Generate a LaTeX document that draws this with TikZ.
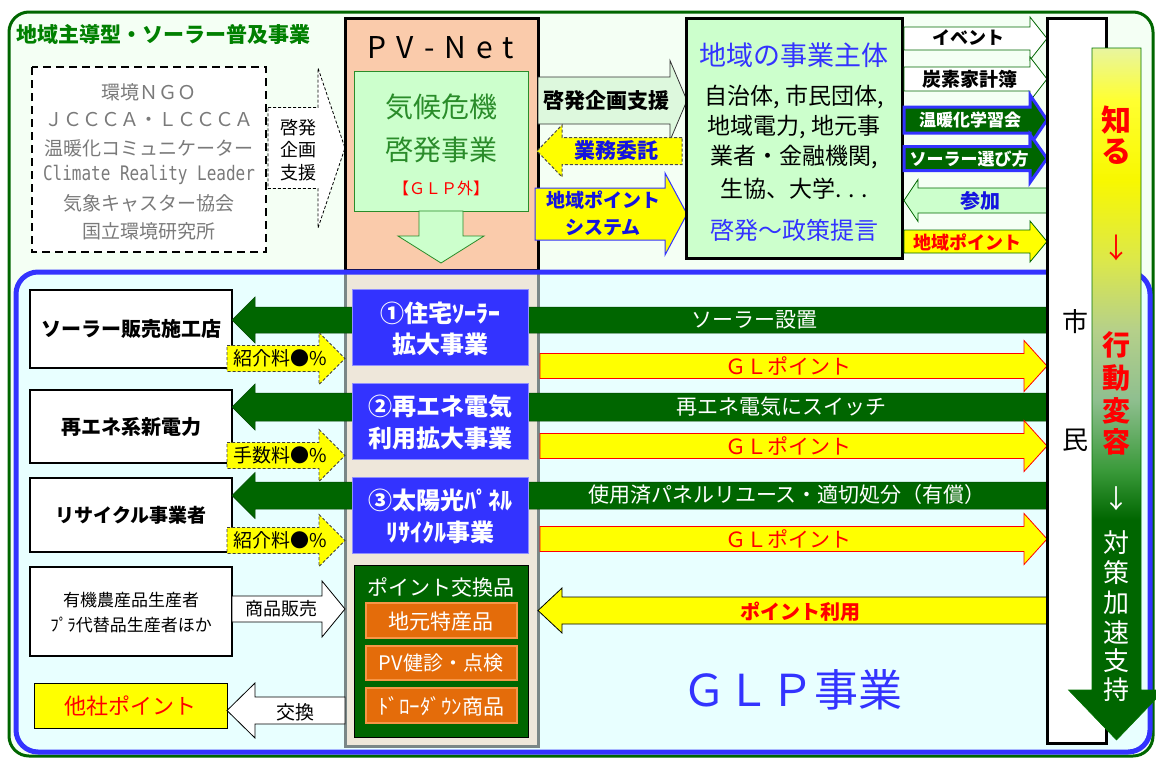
\documentclass[tikz,border=0pt]{standalone}
\usepackage{fontspec}
\setmainfont{Noto Sans CJK JP}
\setmonofont{DejaVu Sans Mono}
\newfontfamily\condmono{DejaVu Sans Mono}[FakeStretch=0.8]
\definecolor{dkg}{HTML}{006600}
\definecolor{ttlg}{HTML}{008000}
\definecolor{bluA}{HTML}{3333FF}
\definecolor{bluB}{HTML}{1414E0}
\definecolor{grayT}{HTML}{7A7A7A}
\definecolor{ltg}{HTML}{CCFFCC}
\definecolor{arrg}{HTML}{DDF8DD}
\definecolor{peach}{HTML}{FACBAB}
\definecolor{beige}{HTML}{EEE7DA}
\definecolor{orgF}{HTML}{E46C0A}
\definecolor{orgD}{HTML}{F79646}
\definecolor{yel}{HTML}{FFFF00}
\definecolor{redT}{HTML}{FF0000}
\definecolor{cyanbg}{HTML}{E8FFFF}
\definecolor{outerbg}{HTML}{F4FFF4}
\definecolor{txtg}{HTML}{2A8C2A}
\definecolor{colgray}{HTML}{7A8787}
\definecolor{gA}{HTML}{E8F5A0}
\definecolor{gB}{HTML}{FFFF30}
\definecolor{gC}{HTML}{F8F800}
\definecolor{gD}{HTML}{DCE84A}
\definecolor{gE}{HTML}{B5D08A}
\definecolor{gF}{HTML}{8FBF8F}
\definecolor{gG}{HTML}{3A9A3A}
\pgfdeclareverticalshading{actshade}{100bp}{color(0bp)=(dkg); color(25bp)=(dkg); color(40.9bp)=(dkg); color(44.5bp)=(gG); color(49.6bp)=(gF); color(54.6bp)=(gE); color(59.7bp)=(gD); color(65.5bp)=(gC); color(71.2bp)=(gB); color(75bp)=(gA); color(100bp)=(gA)}
\newcommand\myfs[1]{\fontsize{#1}{#1}\selectfont}
\newcommand\blockarrow[7]{\path[#1] (#2,#5-#6) -- (#3,#5-#6) -- (#3,#5-#7) -- (#4,#5) -- (#3,#5+#7) -- (#3,#5+#6) -- (#2,#5+#6) -- cycle;}
\newcommand\vblockarrow[7]{\path[#1] (#5-#6,#2) -- (#5-#6,#3) -- (#5-#7,#3) -- (#5,#4) -- (#5+#7,#3) -- (#5+#6,#3) -- (#5+#6,#2) -- cycle;}
\begin{document}
\begin{tikzpicture}[x=1pt,y=-1pt,
  every node/.style={inner sep=0pt,anchor=center},
  yarrow/.style={fill=yel,draw=redT,line width=0.8pt},
  garrow/.style={fill=dkg,draw=dkg!70!black,line width=0.5pt},
  warrow/.style={fill=white,draw=dkg,line width=0.8pt},
  barrow/.style={fill=dkg,draw=bluA,line width=3pt},
  dyarrow/.style={fill=yel,draw=black!75,line width=0.8pt,dash pattern=on 3pt off 2pt},
  lbox/.style={fill=white,draw=black,line width=2pt},
  bbox/.style={fill=bluA,draw=bluA!55!white,line width=1pt},
  obox/.style={fill=orgF,draw=orgD,line width=2pt},
  srct/.style={font=\myfs{19},text=grayT},
]
\useasboundingbox (0,0) rectangle (1156,758);
% outer frame
\draw[draw=dkg,line width=3pt,fill=outerbg,rounded corners=20pt] (9,12) rectangle (1153,756);
\node[anchor=west,font={\myfs{21}\bfseries},text=ttlg] (title) at (16,34) {地域主導型・ソーラー普及事業};
% source box
\draw[line width=2.5pt,dash pattern=on 8pt off 5pt,fill=white] (32,67) rectangle (266,252);
\node[srct] (s1) at (149,92) {環境ＮＧＯ};
\node[srct] (s2) at (149,120) {ＪＣＣＣＡ・ＬＣＣＣＡ};
\node[srct] (s3) at (149,148) {温暖化コミュニケーター};
\node[font={\condmono\myfs{20}},text=grayT] (s4) at (149,175) {Climate Reality Leader};
\node[srct] (s5) at (149,203) {気象キャスター協会};
\node[srct] (s6) at (149,231) {国立環境研究所};
\blockarrow{fill=white,draw=black,line width=0.8pt,dash pattern=on 3pt off 2pt}{268}{318}{345}{148}{40.5}{80}
\node[font=\myfs{18}] (k1) at (298,128) {啓発};
\node[font=\myfs{18}] (k2) at (298,150) {企画};
\node[font=\myfs{18}] (k3) at (298,173) {支援};
% PV-Net
\draw[fill=peach,line width=3pt] (345,18) rectangle (538,270);
\node[font=\myfs{30}] (pvnet) at (441,48) {P\hspace{10pt}V\hspace{10pt}-\hspace{10pt}N\hspace{10pt}e\hspace{10pt}t};
\draw[fill=ltg,draw=txtg,line width=0.8pt] (354,71) rectangle (528,211);
\node[font=\myfs{28},text=txtg] (kk1) at (441,107) {気候危機};
\node[font=\myfs{28},text=txtg] (kk2) at (441,150) {啓発事業};
\node[font=\myfs{16},text=redT] (kk3) at (441,188) {【ＧＬＰ外】};
\vblockarrow{fill=ltg,draw=txtg,line width=0.8pt}{211}{236}{263}{441}{22}{43}
% arrows PV-Net <-> actors
\blockarrow{fill=arrg,draw=black!80,line width=0.8pt}{538}{670}{687}{100.5}{23.5}{40}
\node[font={\myfs{21}\bfseries}] (a1) at (606,100) {啓発企画支援};
\blockarrow{fill=yel,draw=black!70,line width=1pt,dash pattern=on 3pt off 2pt}{682}{562}{537}{151}{13.5}{26}
\node[font={\myfs{21}\bfseries},text=bluB] (a2) at (616,151) {業務委託};
\blockarrow{fill=yel,draw=bluA,line width=1pt}{535}{665}{687}{214}{26}{41}
\node[font={\myfs{19}\bfseries},text=bluB] (a3) at (603,200) {地域ポイント};
\node[font={\myfs{19}\bfseries},text=bluB] (a4) at (603,228) {システム};
% actors box
\draw[fill=ltg,line width=3pt] (686,18) rectangle (902,258);
\node[font=\myfs{27},text=bluA] (act) at (794,55) {地域の事業主体};
\node[font=\myfs{23}] (ac1) at (794,97) {自治体, 市民団体,};
\node[font=\myfs{23}] (ac2) at (794,127) {地域電力, 地元事};
\node[font=\myfs{23}] (ac3) at (794,157) {業者・金融機関,};
\node[font=\myfs{23}] (ac4) at (794,189) {生協、大学. . .};
\node[font=\myfs{24},text=bluA] (ac5) at (794,230) {啓発～政策提言};
% arrows actors -> citizens
\blockarrow{warrow}{904}{1030}{1047}{38.5}{11.5}{21.5}
\node[font={\myfs{18}\bfseries}] (r1) at (968,38) {イベント};
\blockarrow{warrow}{904}{1030}{1047}{79}{12}{22}
\node[font={\myfs{19}\bfseries}] (r2) at (970,79) {炭素家計簿};
\blockarrow{barrow}{904}{1030}{1047}{120}{13}{25}
\node[font={\myfs{17}\bfseries},text=white] (r3) at (970,120) {温暖化学習会};
\blockarrow{barrow}{904}{1030}{1047}{158.5}{12}{24}
\node[font={\myfs{17}\bfseries},text=white] (r4) at (969,159) {ソーラー選び方};
\blockarrow{fill=ltg,draw=dkg,line width=0.8pt}{1047}{918}{904}{200.5}{12.5}{21}
\node[font={\myfs{20}\bfseries},text=bluB] (r5) at (980,201) {参加};
\blockarrow{fill=yel,draw=dkg,line width=0.8pt}{904}{1030}{1047}{241.5}{11.5}{20.5}
\node[font={\myfs{18}\bfseries},text=redT] (r6) at (967,242) {地域ポイント};
% GLP area
\fill[cyanbg,rounded corners=22pt] (16,272) rectangle (1150,752);
\draw[fill=beige,draw=colgray,line width=3pt] (345,272) rectangle (538,746);
\draw[bluA,line width=5pt,rounded corners=22pt] (16,272) rectangle (1150,752);
% left boxes
\draw[lbox] (30,290) rectangle (232,368);
\node[font={\myfs{20}\bfseries}] (l1) at (131,329) {ソーラー販売施工店};
\draw[lbox] (30,390) rectangle (232,463);
\node[font={\myfs{20}\bfseries}] (l2) at (131,427) {再エネ系新電力};
\draw[lbox] (30,478) rectangle (232,552);
\node[font={\myfs{19}\bfseries}] (l3) at (131,515) {リサイクル事業者};
\draw[lbox] (30,567) rectangle (232,656);
\node[font=\myfs{17}] (l4a) at (131,600) {有機農産品生産者};
\node[font=\myfs{17}] (l4b) at (131,625) {ﾌﾟﾗ代替品生産者ほか};
\draw[fill=yel,draw=black,line width=1pt] (34,683) rectangle (227,728);
\node[font=\myfs{22},text=redT] (l5) at (130,706) {他社ポイント};
% green arrows citizens -> left
\blockarrow{garrow}{1047}{255}{232}{320}{13}{23}
\node[font=\myfs{21},text=white] (g1) at (754,320) {ソーラー設置};
\blockarrow{garrow}{1047}{255}{232}{407}{14}{23}
\node[font=\myfs{21},text=white] (g2) at (781,407) {再エネ電気にスイッチ};
\blockarrow{garrow}{1047}{255}{232}{495.5}{13.5}{23}
\node[font=\myfs{21},text=white] (g3) at (787,495) {使用済パネルリユース・適切処分（有償）};
% blue project boxes
\draw[bbox] (352,289) rectangle (528,365);
\node[font={\myfs{24}\bfseries},text=white] (b1a) at (440,313) {①住宅ｿｰﾗｰ};
\node[font={\myfs{24}\bfseries},text=white] (b1b) at (440,344) {拡大事業};
\draw[bbox] (352,383) rectangle (528,459);
\node[font={\myfs{24}\bfseries},text=white] (b2a) at (440,407) {②再エネ電気};
\node[font={\myfs{24}\bfseries},text=white] (b2b) at (440,438) {利用拡大事業};
\draw[bbox] (352,477) rectangle (528,553);
\node[font={\myfs{24}\bfseries},text=white] (b3a) at (440,500) {③太陽光ﾊﾟﾈﾙ};
\node[font={\myfs{24}\bfseries},text=white] (b3b) at (440,532) {ﾘｻｲｸﾙ事業};
% GL point arrows
\blockarrow{yarrow}{540}{1024}{1047}{366}{12.5}{25.5}
\node[font=\myfs{21},text=redT] (p1) at (788,366) {ＧＬポイント};
\blockarrow{yarrow}{540}{1024}{1047}{446}{12.5}{25.5}
\node[font=\myfs{21},text=redT] (p2) at (788,446) {ＧＬポイント};
\blockarrow{yarrow}{540}{1024}{1047}{539}{12.5}{25.5}
\node[font=\myfs{21},text=redT] (p3) at (788,539) {ＧＬポイント};
% fee arrows
\blockarrow{dyarrow}{227}{319}{345}{358.5}{13}{26}
\node[font=\myfs{19}] (f1) at (280,358) {紹介料●\%};
\blockarrow{dyarrow}{227}{319}{345}{455.5}{13}{26}
\node[font=\myfs{19}] (f2) at (280,455) {手数料●\%};
\blockarrow{dyarrow}{227}{319}{345}{540.5}{13}{26}
\node[font=\myfs{19}] (f3) at (280,540) {紹介料●\%};
% point exchange goods
\draw[fill=dkg,draw=black,line width=1pt] (354,565) rectangle (528,737);
\node[font=\myfs{21},text=white] (x0) at (441,587) {ポイント交換品};
\draw[obox] (366,603) rectangle (517,638);
\node[font=\myfs{21},text=white] (x1) at (441,621) {地元特産品};
\draw[obox] (366,646) rectangle (517,680);
\node[font=\myfs{20},text=white] (x2) at (441,663) {PV健診・点検};
\draw[obox] (366,688) rectangle (517,723);
\node[font=\myfs{21},text=white] (x3) at (441,706) {ﾄﾞﾛｰﾀﾞｳﾝ商品};
% other arrows
\blockarrow{fill=white,draw=black,line width=0.8pt}{232}{322}{345}{609}{13}{28}
\node[font=\myfs{18}] (m1) at (281,609) {商品販売};
\blockarrow{fill=white,draw=black,line width=0.8pt}{345}{255}{227}{710.5}{13.5}{27.5}
\node[font=\myfs{19}] (m2) at (295,712) {交換};
\blockarrow{fill=yel,draw=black,line width=0.8pt}{1047}{562}{538}{610.5}{13.5}{22.5}
\node[font={\myfs{20}\bfseries},text=redT] (m3) at (800,612) {ポイント利用};
\node[font=\myfs{44},text=bluA] (glp) at (792,690) {ＧＬＰ事業};
% citizens
\draw[fill=white,line width=3pt] (1047,18) rectangle (1106,743);
\node[font=\myfs{26}] (c1) at (1075,322) {市};
\node[font=\myfs{26}] (c2) at (1075,440) {民};
% gradient arrow
\vblockarrow{shade,shading=actshade,draw=green!45!black,line width=0.6pt}{48}{690}{740}{1116.5}{24.5}{48}
\foreach \c/\yy in {知/120,る/152} \node[font={\myfs{30}\bfseries},text=redT] (v\yy) at (1116,\yy) {\c};
\node[font=\myfs{28},text=redT] (varr1) at (1116,248) {↓};
\foreach \c/\yy in {行/345,動/378,変/411,容/442} \node[font={\myfs{28}\bfseries},text=redT] (w\yy) at (1116,\yy) {\c};
\node[font=\myfs{26},text=white] (varr2) at (1116,499) {↓};
\foreach \c/\yy in {対/543,策/573,加/603,速/633,支/661,持/690} \node[font=\myfs{26},text=white] (z\yy) at (1116,\yy) {\c};
\end{tikzpicture}
\end{document}
